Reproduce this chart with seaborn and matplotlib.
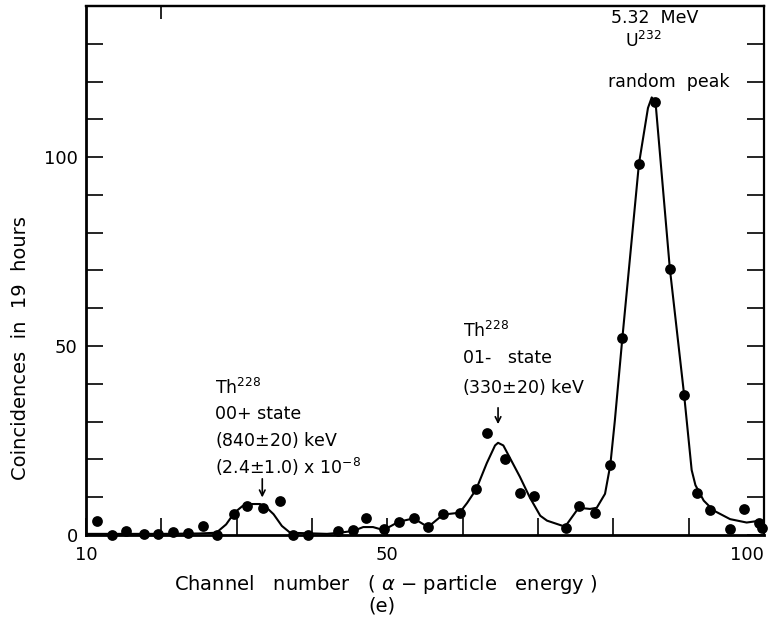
import numpy as np
import pandas as pd
import matplotlib
matplotlib.use("Agg")
import matplotlib.pyplot as plt
import seaborn as sns

# ── Data ─────────────────────────────────────────────────────
# measured coincidences (dots)
channel = [11.4, 13.5, 15.3, 17.7, 19.6, 21.6, 23.5, 25.5, 27.4, 29.6,
           31.4, 33.5, 35.8, 37.5, 39.5, 43.5, 45.5, 47.2, 49.5, 51.5,
           53.5, 55.4, 57.4, 59.6, 61.8, 63.2, 65.6, 67.6, 69.5, 73.7,
           75.5, 77.6, 79.6, 81.2, 83.4, 85.5, 87.5, 89.4, 91.1, 92.8,
           95.5, 97.4, 99.3, 99.8]
counts = [3.7, 0.0, 1.1, 0.3, 0.3, 0.8, 0.4, 2.4, 0.0, 5.5,
          7.7, 7.2, 9.0, 0.0, 0.0, 1.1, 1.2, 4.4, 1.5, 3.5,
          4.4, 2.1, 5.5, 5.9, 12.1, 26.9, 20.1, 11.0, 10.3, 1.8,
          7.7, 5.9, 18.5, 52.1, 98.1, 114.6, 70.5, 37.1, 11.2, 6.6,
          1.5, 6.8, 3.3, 1.8]

# hand-drawn fit curve
curve_channel = [10, 15, 20, 25, 27.3, 28.6, 29.7, 30.8, 32.1, 33.1,
                 34.0, 34.9, 36.0, 37.1, 42.0, 43.7, 45.5, 46.8, 48.1, 49.5,
                 51.5, 53.5, 55.4, 57.4, 59.6, 60.6, 61.8, 63.2, 64.3, 64.7,
                 65.4, 66.3, 67.6, 68.9, 70.3, 71.2, 73.6, 74.5, 75.4, 76.9,
                 77.8, 78.9, 79.6, 80.2, 81.2, 83.4, 84.6, 85.1, 85.6, 87.5,
                 89.4, 90.4, 90.9, 92.0, 93.3, 95.5, 97.7, 99.5, 100]
curve_counts = [0.3, 0.3, 0.3, 0.4, 0.6, 2.8, 5.9, 7.7, 8.2, 8.2,
                7.2, 5.5, 2.4, 0.6, 0.3, 0.6, 1.1, 2.1, 2.1, 1.3,
                3.5, 4.4, 2.1, 5.4, 5.9, 8.5, 12.1, 19.0, 23.7, 24.4,
                23.7, 20.3, 15.4, 10.0, 5.1, 3.8, 2.2, 4.7, 7.2, 6.9,
                7.2, 10.9, 18.5, 30.2, 52.1, 98.2, 113.0, 115.8, 114.6, 70.6,
                37.1, 17.2, 13.2, 9.1, 6.5, 4.2, 3.3, 3.8, 2.5]

x_ticks = [10, 20, 30, 40, 50, 60, 70, 80, 90, 100]
x_labels = ['10', '', '', '', '50', '', '', '', '', '100']
y_ticks = [0, 10, 20, 30, 40, 50, 60, 70, 80, 90, 100, 110, 120, 130]
y_labels = ['0', '', '', '', '', '50', '', '', '', '', '100', '', '', '']

df_dots = pd.DataFrame({'channel': channel, 'counts': counts})
df_curve = pd.DataFrame({'channel': curve_channel, 'counts': curve_counts})

# ── Plot ─────────────────────────────────────────────────────
sns.set_style("ticks")
plt.rcParams['font.family'] = ['DejaVu Sans']
plt.rcParams.update({'text.color': 'black', 'axes.edgecolor': 'black',
                     'xtick.color': 'black', 'ytick.color': 'black',
                     'axes.labelcolor': 'black'})

fig = plt.figure(figsize=(7.72, 6.18), dpi=100)
ax = fig.add_axes([0.1114, 0.1343, 0.8782, 0.856])

sns.lineplot(data=df_curve, x='channel', y='counts', sort=False, estimator=None,
             color='black', linewidth=1.5, ax=ax)
sns.scatterplot(data=df_dots, x='channel', y='counts', color='black', s=60,
                linewidth=0, ax=ax, zorder=3, clip_on=False)

ax.set_xlim(10, 100)
ax.set_ylim(0, 140)
ax.set_xticks(x_ticks)
ax.set_xticklabels(x_labels)
ax.set_yticks(y_ticks)
ax.set_yticklabels(y_labels)
ax.tick_params(axis='both', direction='in', length=12, width=1.2,
               labelsize=13, right=True, top=False)
ax.tick_params(axis='x', pad=8)
ax.tick_params(axis='y', pad=6)
ax.get_xticklabels()[-1].set_horizontalalignment('right')
ax.set_xlabel('')
ax.set_ylabel('')

top = ax.secondary_xaxis('top')
top.set_xticks([20])
top.set_xticklabels([])
top.tick_params(direction='in', length=9, width=1.2)

for side in ['left', 'bottom']:
    ax.spines[side].set_linewidth(2.0)
for side in ['top', 'right']:
    ax.spines[side].set_linewidth(1.6)
top.spines['top'].set_linewidth(1.6)

# annotations
ann = dict(fontsize=12.5, color='black', va='baseline', ha='left')
ax.text(27.1, 37.4, 'Th$^{228}$', **ann)
ax.text(27.1, 30.8, '00+ state', **ann)
ax.text(27.1, 23.6, '(840$\\pm$20) keV', **ann)
ax.text(27.1, 16.2, '(2.4$\\pm$1.0) x 10$^{-8}$', **ann)
ax.annotate('', xy=(33.4, 9.2), xytext=(33.4, 15.6),
            arrowprops=dict(arrowstyle='->', color='black', lw=1.2))

ax.text(60.0, 52.3, 'Th$^{228}$', **ann)
ax.text(60.0, 45.4, '01-   state', **ann)
ax.text(59.9, 37.7, '(330$\\pm$20) keV', **ann)
ax.annotate('', xy=(64.7, 28.6), xytext=(64.7, 34.4),
            arrowprops=dict(arrowstyle='->', color='black', lw=1.2))

ax.text(85.5, 135.5, '5.32  MeV', fontsize=12.5, ha='center', va='baseline')
ax.text(81.6, 129.2, 'U$^{232}$', fontsize=12.5, ha='left', va='baseline')
ax.text(87.4, 118.6, 'random  peak', fontsize=12.5, ha='center', va='baseline')

fig.text(21 / 772, 1 - 348 / 618, 'Coincidences  in  19  hours',
         rotation=90, ha='center', va='center', fontsize=14)
fig.text(386 / 772, 1 - 585 / 618, 'Channel   number   ( $\\alpha$ − particle   energy )',
         ha='center', va='center', fontsize=14)
fig.text(382 / 772, 1 - 606 / 618, '(e)', ha='center', va='center', fontsize=14)

fig.savefig('out.png', dpi=100)
